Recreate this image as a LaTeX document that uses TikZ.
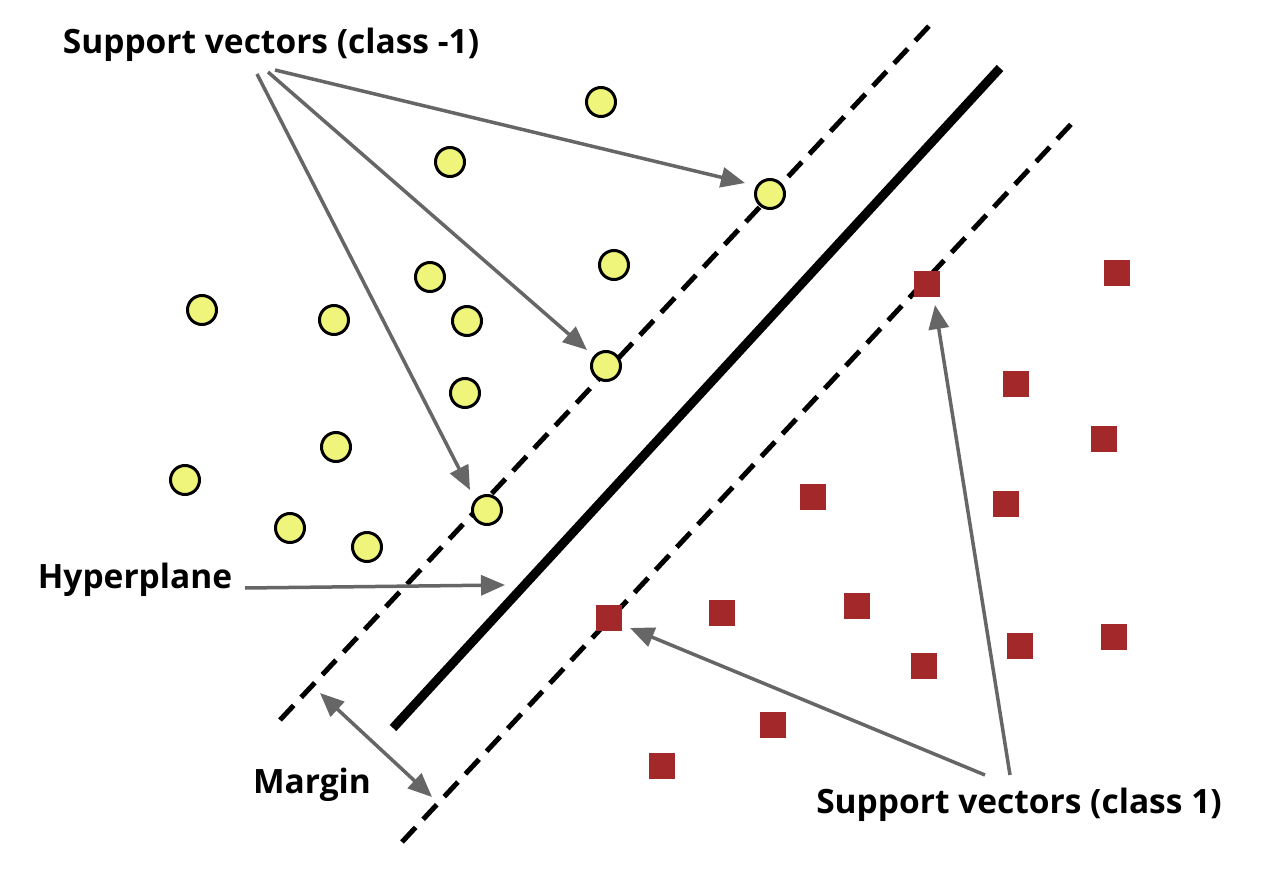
\documentclass[tikz,border=0pt]{standalone}
\usepackage{fontspec}
\setmainfont{Open Sans}
\usetikzlibrary{arrows.meta}
\definecolor{yel}{HTML}{EEF57A}
\definecolor{sq}{HTML}{A3282A}
\definecolor{ar}{HTML}{666666}
\begin{document}
\begin{tikzpicture}[x=1pt,y=-1pt,
  c/.style={circle,draw=black,line width=3pt,fill=yel,minimum size=29pt,inner sep=0},
  s/.style={rectangle,fill=sq,minimum size=26pt,inner sep=0},
  a/.style={draw=ar,line width=3.5pt,-{Triangle[length=24pt,width=20pt]}},
  dl/.style={line width=5pt,dash pattern=on 20pt off 11pt},
  lab/.style={font=\fontsize{33.5}{36}\selectfont\bfseries,inner sep=0}]
\useasboundingbox (0,0) rectangle (1270,872);
\fill[white] (0,0) rectangle (1270,872);
\coordinate (d1a) at (280,720); \coordinate (d1b) at (930,25);
\coordinate (ha) at (393,728); \coordinate (hb) at (1000,68);
\coordinate (d2a) at (402,842); \coordinate (d2b) at (1075,120);
\draw[dl] (d1a)--(d1b);
\draw[line width=9pt] (ha)--(hb);
\draw[dl] (d2a)--(d2b);
\foreach \n/\x/\y in {c1/601/102,c2/450/162,c3/770/194,c4/614/265,c5/430/277,c6/202/310,c7/334/320,c8/467/321,c9/606/366,c10/465/393,c11/336/447,c12/185/480,c13/487/510,c14/290/528,c15/367/547}
  \node[c] (\n) at (\x,\y) {};
\foreach \n/\x/\y in {s1/1117/273,s2/927/284,s3/1016/384,s4/1104/439,s5/813/497,s6/1006/504,s7/609/618,s8/722/613,s9/857/606,s10/924/666,s11/1020/646,s12/1114/637,s13/773/725,s14/662/766}
  \node[s] (\n) at (\x,\y) {};
\node[lab] (t1) at (271,45) {Support vectors (class -1)};
\node[lab] (t2) at (135,580) {Hyperplane};
\node[lab] (t3) at (312,785) {Margin};
\node[lab] (t4) at (1019,805) {Support vectors (class 1)};
\coordinate (p1) at (745,183); \coordinate (p2) at (587,350); \coordinate (p3) at (470,490);
\draw[a] (275,70) -- (p1);
\draw[a] (268,72) -- (p2);
\draw[a] (257,74) -- (p3);
\coordinate (hs) at (245,588); \coordinate (hp) at (505,585);
\draw[a] (hs) -- (hp);
\coordinate (m1) at (320,693); \coordinate (m2) at (432,797);
\draw[a,{Triangle[length=24pt,width=20pt]}-{Triangle[length=24pt,width=20pt]}] (m1) -- (m2);
\coordinate (q1) at (935,305); \coordinate (q2) at (630,628);
\draw[a] (1010,775) -- (q1);
\draw[a] (985,775) -- (q2);
\end{tikzpicture}
\end{document}
